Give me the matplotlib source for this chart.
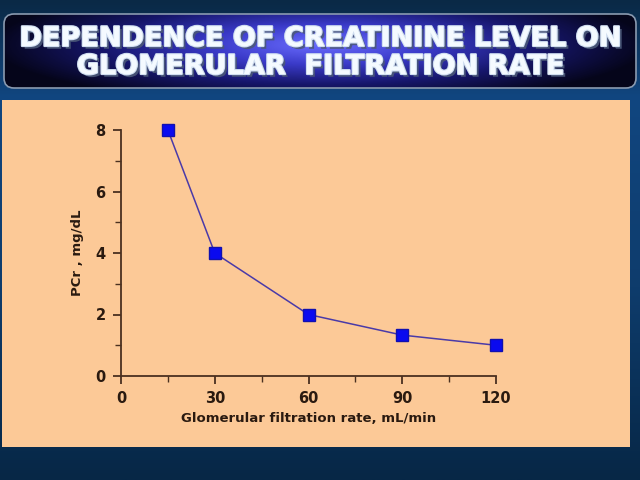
import numpy as np
import matplotlib
matplotlib.use('Agg')
import matplotlib.pyplot as plt
from matplotlib.patches import FancyBboxPatch, Rectangle
import matplotlib.patheffects as pe

# data
gfr = [15, 30, 60, 90, 120]
pcr = [8, 4, 2, 1.33, 1.0]
x_ticks = [0, 30, 60, 90, 120]
y_ticks = [0, 2, 4, 6, 8]
title = 'DEPENDENCE OF CREATININE LEVEL ON\nGLOMERULAR  FILTRATION RATE'

fig = plt.figure(figsize=(6.4, 4.8), dpi=100)
fig.patch.set_facecolor('#0a2d52')

# background layer in pixel-ish coordinates
bg = fig.add_axes([0, 0, 1, 1])
bg.set_xlim(0, 640)
bg.set_ylim(480, 0)
bg.axis('off')

# vertical shading of the slide background
grad = np.linspace(0, 1, 200).reshape(-1, 1)
slide_cm = matplotlib.colors.LinearSegmentedColormap.from_list(
    'slide', [(0, '#0a2946'), (0.2, '#114680'), (0.6, '#0e3c6c'), (1, '#072746')])
bg.imshow(grad, extent=[0, 640, 480, 0], cmap=slide_cm, aspect='auto', zorder=0)

# title banner with radial gradient
banner = FancyBboxPatch((4, 14), 632, 74, boxstyle='round,pad=0,rounding_size=10',
                        facecolor='none', edgecolor='#8a9ab0', linewidth=1.2, zorder=2)
bg.add_patch(banner)
yy, xx = np.mgrid[0:74, 0:632]
r = np.sqrt(((xx - 316) / 330.0) ** 2 + ((yy - 30) / 60.0) ** 2)
r = np.clip(r, 0, 1)
cm = matplotlib.colors.LinearSegmentedColormap.from_list(
    'ban', ['#6a6cff', '#3a3ac8', '#16166a', '#05051a'])
im = bg.imshow(r, extent=[4, 636, 88, 14], cmap=cm, aspect='auto', zorder=1)
im.set_clip_path(banner)

bg.text(321, 53, title, ha='center', va='center', color='#f4faff', fontsize=19.5,
        fontweight='bold', linespacing=1.1, zorder=3,
        path_effects=[pe.withSimplePatchShadow(offset=(2, -2), shadow_rgbFace='#4a5878', alpha=0.9),
                      pe.Stroke(linewidth=1.6, foreground='#d0def0'), pe.Normal()])

# peach panel
bg.add_patch(Rectangle((2, 100), 628, 347, facecolor='#fcc997', edgecolor='none', zorder=1))

# chart
ax = fig.add_axes([121 / 640, 1 - 376 / 480, 375 / 640, 246 / 480])
ax.patch.set_alpha(0)
ax.plot(gfr, pcr, color='#4a3aa8', linewidth=1.1, marker='s', markersize=8.5,
        markerfacecolor='#0a0af0', markeredgecolor='#1010b0', zorder=3, clip_on=False)
ax.set_xlim(0, 120)
ax.set_ylim(0, 8)
ax.set_xticks(x_ticks)
ax.set_yticks(y_ticks)
ax.set_xticks([15, 45, 75, 105], minor=True)
ax.set_yticks([1, 3, 5, 7], minor=True)
for s in ['top', 'right']:
    ax.spines[s].set_visible(False)
for s in ['left', 'bottom']:
    ax.spines[s].set_color('#4a3020')
    ax.spines[s].set_linewidth(1.3)
ax.tick_params(which='major', direction='out', length=6, width=1.3, color='#4a3020',
               labelsize=10.5, labelcolor='#2a1a10', pad=5)
ax.tick_params(which='minor', direction='out', length=4, width=1.0, color='#4a3020')
for lab in ax.get_xticklabels() + ax.get_yticklabels():
    lab.set_fontweight('bold')
ax.set_xlabel('Glomerular filtration rate, mL/min', fontsize=9.5, fontweight='bold',
              color='#2a1a10', labelpad=4)
ax.set_ylabel('PCr , mg/dL', fontsize=9.5, fontweight='bold', color='#2a1a10', labelpad=8)

fig.savefig('out.png', dpi=100, facecolor=fig.get_facecolor())
